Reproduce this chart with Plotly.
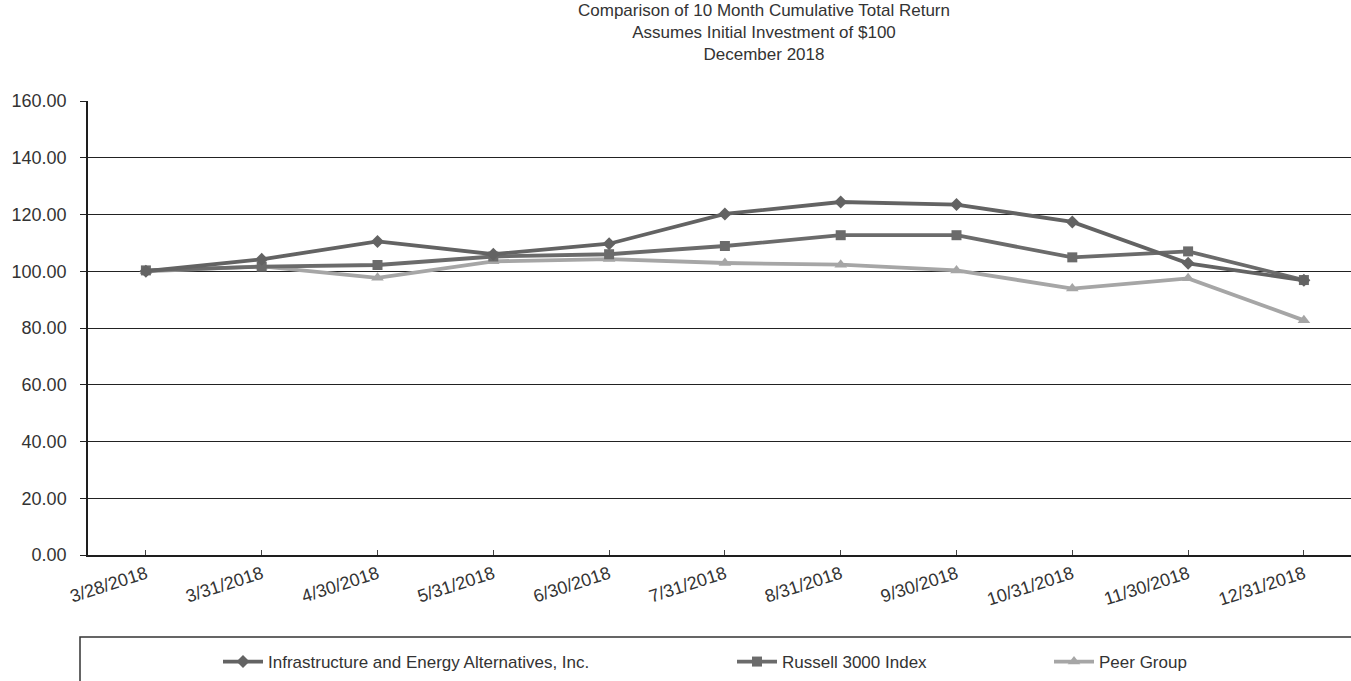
import plotly.graph_objects as go

dates = ["3/28/2018", "3/31/2018", "4/30/2018", "5/31/2018", "6/30/2018", "7/31/2018",
         "8/31/2018", "9/30/2018", "10/31/2018", "11/30/2018", "12/31/2018"]
infra = [100.0, 104.2, 110.5, 106.0, 109.7, 120.2, 124.4, 123.5, 117.4, 102.8, 96.8]
russell = [100.3, 101.6, 102.2, 105.2, 106.0, 108.9, 112.7, 112.7, 104.9, 107.0, 96.9]
peer = [100.0, 101.7, 97.7, 103.5, 104.3, 102.9, 102.3, 100.3, 93.9, 97.5, 82.7]

names = ["Infrastructure and Energy Alternatives, Inc.", "Russell 3000 Index", "Peer Group"]
title_lines = ["Comparison of 10 Month Cumulative Total Return",
               "Assumes Initial Investment of $100",
               "December 2018"]
y_ticks = [0, 20, 40, 60, 80, 100, 120, 140, 160]

W, H = 1351, 681
L, R, T, B = 88, 0, 101, 126
pw, ph = W - L - R, H - T - B

def px_x(x):
    return (x - L) / pw

def px_y(y):
    return (H - B - y) / ph

FONT = "Liberation Sans, Arial, sans-serif"
TXT = "#333333"

fig = go.Figure()
fig.add_trace(go.Scatter(x=dates, y=peer, name=names[2], mode="lines+markers",
                         line=dict(color="#a6a6a6", width=3.8),
                         marker=dict(symbol="triangle-up", size=11, color="#a6a6a6"),
                         legend="legend3"))
fig.add_trace(go.Scatter(x=dates, y=russell, name=names[1], mode="lines+markers",
                         line=dict(color="#6b6b6b", width=3.8),
                         marker=dict(symbol="square", size=10, color="#6b6b6b"),
                         legend="legend2"))
fig.add_trace(go.Scatter(x=dates, y=infra, name=names[0], mode="lines+markers",
                         line=dict(color="#636363", width=3.8),
                         marker=dict(symbol="diamond", size=10, color="#636363"),
                         legend="legend"))

spacing = 115.8
xr_max = -0.5 + pw / spacing

legend_common = dict(yanchor="middle", xanchor="left", itemwidth=40,
                     bgcolor="rgba(0,0,0,0)", font=dict(size=17, family=FONT, color=TXT))

fig.update_layout(
    width=W, height=H,
    margin=dict(l=L, r=R, t=T, b=B, autoexpand=False),
    paper_bgcolor="white", plot_bgcolor="white",
    font=dict(family=FONT, color=TXT, size=17),
    xaxis=dict(type="category", range=[-0.5, xr_max], showgrid=False,
               showline=True, linecolor="#1e1e1e", linewidth=1.5,
               ticks="inside", ticklen=5, tickcolor="#444444",
               tickangle=-18, tickfont=dict(size=18, family=FONT, color=TXT)),
    yaxis=dict(range=[0, 160], tickvals=y_ticks, ticktext=[f"{v:.2f}" for v in y_ticks],
               showgrid=True, gridcolor="#222222", gridwidth=1.3,
               showline=True, linecolor="#1e1e1e", linewidth=1.5,
               ticks="outside", ticklen=6, tickcolor="#222222",
               ticklabelstandoff=10,
               tickfont=dict(size=18, family=FONT, color=TXT), zeroline=False),
    showlegend=True,
    legend=dict(x=px_x(218), y=px_y(662), **legend_common),
    legend2=dict(x=px_x(732), y=px_y(662), **legend_common),
    legend3=dict(x=px_x(1049), y=px_y(662), **legend_common),
)

fig.add_shape(type="rect", xref="paper", yref="paper",
              x0=px_x(80), x1=px_x(1400), y0=px_y(637), y1=px_y(720),
              line=dict(color="#333333", width=1.5), fillcolor="rgba(0,0,0,0)")

fig.add_annotation(text="<br>".join(title_lines), xref="paper", yref="paper",
                   x=px_x(764), y=px_y(33), xanchor="center", yanchor="middle",
                   showarrow=False, align="center",
                   font=dict(size=17, family=FONT, color=TXT))

fig.write_html("out.html")
